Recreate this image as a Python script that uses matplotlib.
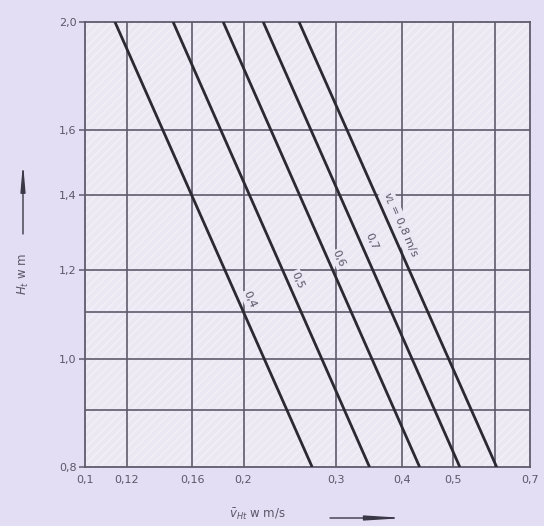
import numpy as np
import matplotlib
matplotlib.use("Agg")
import matplotlib.pyplot as plt
from matplotlib.ticker import FixedLocator, FixedFormatter, NullLocator

# ---- data ----
velocities = [0.4, 0.5, 0.6, 0.7, 0.8]            # v_L in m/s
line_labels = ["0,4", "0,5", "0,6", "0,7", r"$v_L$ = 0,8 m/s"]
H_top = 2.0
H_bottom = 0.8
v_at_top = [0.114, 0.147, 0.183, 0.218, 0.255]    # v_Ht where H_t = 2.0
v_at_bottom = [0.270, 0.347, 0.432, 0.515, 0.605] # v_Ht where H_t = 0.8
label_H = [1.129, 1.176, 1.228, 1.272, 1.317]     # H_t at label centre

x_ticks = [0.1, 0.12, 0.16, 0.2, 0.3, 0.4, 0.5, 0.7]
x_ticklabels = ["0,1", "0,12", "0,16", "0,2", "0,3", "0,4", "0,5", "0,7"]
x_grid = [0.12, 0.16, 0.2, 0.3, 0.4, 0.5, 0.6]
y_ticks = [0.8, 1.0, 1.2, 1.4, 1.6, 2.0]
y_ticklabels = ["0,8", "1,0", "1,2", "1,4", "1,6", "2,0"]
y_grid = [0.9, 1.0, 1.1, 1.2, 1.4, 1.6]

# ---- style ----
outer_bg = "#e4def4"
inner_bg = "#ebe7f3"
grid_c = "#5e5c6c"
line_c = "#2b2a33"
text_c = "#5a5868"
arrow_c = "#3a3846"

fig = plt.figure(figsize=(5.44, 5.26), dpi=100, facecolor=outer_bg)
ax = fig.add_axes([85/544, (526-467)/526, 445/544, 445/526])
ax.set_facecolor(inner_bg)
ax.set_xscale("log")
ax.set_yscale("log")
ax.set_xlim(0.1, 0.7)
ax.set_ylim(0.8, 2.0)

# faint diagonal hatching of the paper
ax.patch.set_hatch("////")
ax.patch.set_edgecolor("#f3f1f8")
ax.patch.set_linewidth(0)

for xv in x_grid:
    ax.axvline(xv, color=grid_c, lw=1.2, zorder=1)
for yv in y_grid:
    ax.axhline(yv, color=grid_c, lw=1.2, zorder=1)

for s in ax.spines.values():
    s.set_color(grid_c)
    s.set_linewidth(1.3)

ax.xaxis.set_major_locator(FixedLocator(x_ticks))
ax.xaxis.set_major_formatter(FixedFormatter(x_ticklabels))
ax.xaxis.set_minor_locator(NullLocator())
ax.yaxis.set_major_locator(FixedLocator(y_ticks))
ax.yaxis.set_major_formatter(FixedFormatter(y_ticklabels))
ax.yaxis.set_minor_locator(NullLocator())
ax.tick_params(axis="x", length=0, pad=6, labelsize=8, labelcolor=text_c)
ax.tick_params(axis="y", length=4, width=1.1, color=grid_c, pad=2,
               labelsize=8, labelcolor=text_c)

fig.canvas.draw()
for v, x0, x1, hl, lab in zip(velocities, v_at_top, v_at_bottom, label_H, line_labels):
    ax.plot([x0, x1], [H_top, H_bottom], color=line_c, lw=2.0, zorder=3,
            solid_capstyle="butt")
    # position of label on the line (linear in log-log)
    t = (np.log(H_top) - np.log(hl)) / (np.log(H_top) - np.log(H_bottom))
    xl = np.exp(np.log(x0) + t * (np.log(x1) - np.log(x0)))
    p0 = ax.transData.transform((x0, H_top))
    p1 = ax.transData.transform((x1, H_bottom))
    ang = np.degrees(np.arctan2(p1[1] - p0[1], p1[0] - p0[0]))
    ax.annotate(lab, xy=(xl, hl), xytext=(11, 0), textcoords="offset pixels",
                rotation=ang, rotation_mode="anchor",
                ha="center", va="center", fontsize=8, color=text_c, zorder=2,
                bbox=dict(boxstyle="square,pad=0.1", fc=inner_bg, ec="none"))

# axis labels with arrows (figure pixel coords)
fig.text(23/544, 1 - 274/526, r"$H_t$ w m", rotation=90, ha="center",
         va="center", fontsize=8.5, color=text_c)
ax.annotate("", xy=(23, 526 - 163), xytext=(23, 526 - 234),
            xycoords="figure pixels", textcoords="figure pixels",
            arrowprops=dict(arrowstyle="-|>,head_length=1.6,head_width=0.14",
                            color=arrow_c, lw=1.0, shrinkA=0, shrinkB=0))
fig.text(257/544, 1 - 514/526, r"$\bar{v}_{Ht}$ w m/s", ha="center",
         va="center", fontsize=8.5, color=text_c)
ax.annotate("", xy=(405, 526 - 518), xytext=(330, 526 - 518),
            xycoords="figure pixels", textcoords="figure pixels",
            arrowprops=dict(arrowstyle="-|>,head_length=2.2,head_width=0.14",
                            color=arrow_c, lw=1.0, shrinkA=0, shrinkB=0))

fig.savefig("out.png", dpi=100, facecolor=outer_bg)
